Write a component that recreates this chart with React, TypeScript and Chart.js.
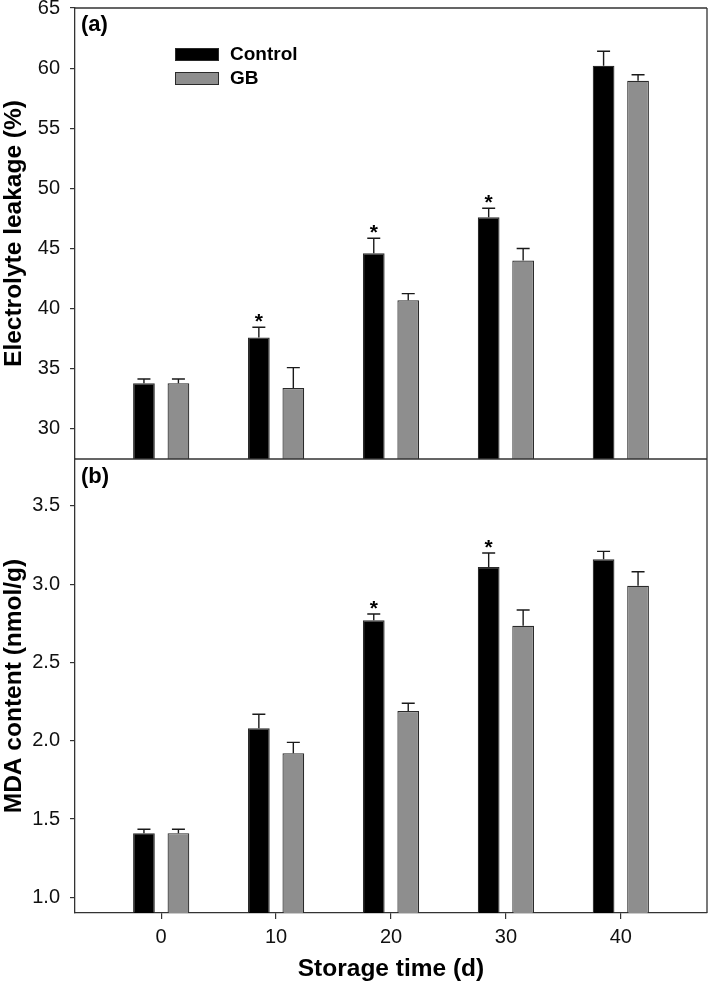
import React, { useEffect, useRef } from 'react';
import { Chart, registerables } from 'chart.js';

Chart.register(...registerables);

// ---- data ----
const days = [0, 10, 20, 30, 40];
const dayLabels = ['0', '10', '20', '30', '40'];
const seriesNames = ['Control', 'GB'];

const elControl = [33.8, 37.6, 44.6, 47.6, 60.2];
const elControlErr = [0.35, 0.85, 1.25, 0.75, 1.2];
const elGB = [33.8, 33.4, 40.7, 44.0, 58.95];
const elGBErr = [0.35, 1.7, 0.55, 1.0, 0.5];
const elSig = [false, true, true, true, false];

const mdaControl = [1.41, 2.08, 2.77, 3.11, 3.16];
const mdaControlErr = [0.025, 0.09, 0.04, 0.09, 0.05];
const mdaGB = [1.41, 1.92, 2.19, 2.735, 2.99];
const mdaGBErr = [0.025, 0.07, 0.05, 0.1, 0.09];
const mdaSig = [false, false, true, true, false];

const elTicks = [30, 35, 40, 45, 50, 55, 60, 65];
const elTickLabels = ['30', '35', '40', '45', '50', '55', '60', '65'];
const mdaTicks = [1.0, 1.5, 2.0, 2.5, 3.0, 3.5];
const mdaTickLabels = ['1.0', '1.5', '2.0', '2.5', '3.0', '3.5'];

const panelLabels = ['(a)', '(b)'];
const yTitles = ['Electrolyte leakage (%)', 'MDA content (nmol/g)'];
const xTitle = 'Storage time (d)';

const FONT = "'Liberation Sans', Arial, Helvetica, sans-serif";
const BLACK = '#000000';
const GRAY = '#8e8e8e';
const EDGE = '#2a2a2a';
const AXIS = '#333333';

const errorBarPlugin = {
  id: 'errorBars',
  afterDatasetsDraw(chart: any) {
    const ctx = chart.ctx;
    chart.data.datasets.forEach((ds: any, di: number) => {
      const meta = chart.getDatasetMeta(di);
      const yScale = chart.scales[ds.yAxisID];
      meta.data.forEach((el: any, i: number) => {
        const v = ds.data[i].y;
        const e = ds.errs[i];
        const capY = yScale.getPixelForValue(v + e);
        const x = el.x;
        ctx.save();
        ctx.strokeStyle = '#1a1a1a';
        ctx.lineWidth = 1.4;
        ctx.beginPath();
        ctx.moveTo(x, el.y);
        ctx.lineTo(x, capY);
        ctx.moveTo(x - 6.5, capY);
        ctx.lineTo(x + 6.5, capY);
        ctx.stroke();
        if (ds.sig && ds.sig[i]) {
          ctx.fillStyle = '#000';
          ctx.font = `bold 21px ${FONT}`;
          ctx.textAlign = 'center';
          ctx.textBaseline = 'alphabetic';
          ctx.fillText('*', x, capY + 1);
        }
        ctx.restore();
      });
    });
  },
};

const framePlugin = {
  id: 'frame',
  afterDraw(chart: any) {
    const { ctx, chartArea } = chart;
    const yA = chart.scales.yA;
    const yB = chart.scales.yB;
    ctx.save();
    ctx.strokeStyle = AXIS;
    ctx.lineWidth = 1.3;
    ctx.beginPath();
    ctx.moveTo(chartArea.left, chartArea.top);
    ctx.lineTo(chartArea.right, chartArea.top);
    ctx.moveTo(chartArea.right, chartArea.top);
    ctx.lineTo(chartArea.right, chartArea.bottom);
    ctx.moveTo(chartArea.left, yA.bottom);
    ctx.lineTo(chartArea.right, yA.bottom);
    ctx.stroke();

    // panel labels
    ctx.fillStyle = '#000';
    ctx.font = `bold 22px ${FONT}`;
    ctx.textAlign = 'left';
    ctx.textBaseline = 'middle';
    ctx.fillText(panelLabels[0], chartArea.left + 6, yA.top + 17);
    ctx.fillText(panelLabels[1], chartArea.left + 6, yB.top + 18);

    // legend
    const lx = chartArea.left + 100;
    const ly = yA.top + 40;
    const fills = [BLACK, GRAY];
    for (let i = 0; i < seriesNames.length; i++) {
      const y = ly + i * 24;
      ctx.fillStyle = fills[i];
      ctx.fillRect(lx, y, 44, 13);
      ctx.strokeStyle = EDGE;
      ctx.lineWidth = 1;
      ctx.strokeRect(lx + 0.5, y + 0.5, 43, 12);
      ctx.fillStyle = '#000';
      ctx.font = `bold 19px ${FONT}`;
      ctx.textBaseline = 'middle';
      ctx.fillText(seriesNames[i], lx + 55, y + 7);
    }
    ctx.restore();
  },
};

function makeDataset(label: string, vals: number[], errs: number[], sig: boolean[] | null, axis: string, stack: string, color: string) {
  return {
    label,
    data: days.map((d, i) => ({ x: d, y: vals[i] })),
    errs,
    sig,
    yAxisID: axis,
    xAxisID: 'x',
    stack,
    backgroundColor: color,
    borderColor: EDGE,
    borderWidth: 1.2,
    categoryPercentage: 0.6,
    barPercentage: 0.63,
  };
}

export default function App() {
  const ref = useRef<HTMLCanvasElement | null>(null);

  useEffect(() => {
    document.body.style.margin = '0';
    const canvas = ref.current;
    if (!canvas) return;
    const yCommon = (ticks: number[], labels: string[]) => ({
      type: 'linear' as const,
      position: 'left' as const,
      stack: 'panels',
      stacked: false,
      afterBuildTicks: (scale: any) => {
        scale.ticks = ticks.map((v) => ({ value: v }));
      },
      afterFit: (scale: any) => {
        scale.width = 75;
        scale.paddingTop = 0;
        scale.paddingBottom = 0;
      },
      grid: { drawOnChartArea: false, drawTicks: true, tickLength: 5, color: AXIS, lineWidth: 1.2 },
      border: { display: true, color: AXIS, width: 1.3 },
      ticks: {
        padding: 10,
        color: '#111',
        font: { family: FONT, size: 20 },
        callback: (v: any) => {
          const idx = ticks.findIndex((t) => Math.abs(t - v) < 1e-9);
          return idx >= 0 ? labels[idx] : '';
        },
      },
    });

    const chart = new Chart(canvas, {
      type: 'bar',
      data: {
        datasets: [
          makeDataset(seriesNames[0], elControl, elControlErr, elSig, 'yA', 'c', BLACK),
          makeDataset(seriesNames[1], elGB, elGBErr, null, 'yA', 'g', GRAY),
          makeDataset(seriesNames[0], mdaControl, mdaControlErr, mdaSig, 'yB', 'c', BLACK),
          makeDataset(seriesNames[1], mdaGB, mdaGBErr, null, 'yB', 'g', GRAY),
        ] as any,
      },
      options: {
        responsive: false,
        animation: false,
        layout: { padding: { top: 8, right: 2, left: 0, bottom: 0 } },
        plugins: { legend: { display: false }, tooltip: { enabled: false }, title: { display: false } },
        scales: {
          x: {
            type: 'linear',
            position: 'bottom',
            offset: false,
            min: -7.5,
            max: 47.5,
            afterBuildTicks: (scale: any) => {
              scale.ticks = days.map((v) => ({ value: v }));
            },
            afterFit: (scale: any) => {
              scale.height = 75;
              scale.paddingLeft = 0;
              scale.paddingRight = 0;
            },
            grid: { offset: false, drawOnChartArea: false, drawTicks: true, tickLength: 6, color: AXIS, lineWidth: 1.2 },
            border: { display: true, color: AXIS, width: 1.3 },
            ticks: {
              padding: 6,
              maxRotation: 0,
              color: '#111',
              font: { family: FONT, size: 20 },
              callback: (v: any) => {
                const idx = days.indexOf(v);
                return idx >= 0 ? dayLabels[idx] : '';
              },
            },
            title: {
              display: true,
              text: xTitle,
              color: '#000',
              font: { family: FONT, size: 24.5, weight: 'bold' },
              padding: { top: 0, bottom: 4 },
            },
          },
          yA: {
            ...yCommon(elTicks, elTickLabels),
            min: 27.5,
            max: 65,
            weight: 2,
            stackWeight: 451,
            title: {
              display: true,
              text: yTitles[0],
              color: '#000',
              font: { family: FONT, size: 24.5, weight: 'bold' },
              padding: { top: 0, bottom: 0 },
            },
          },
          yB: {
            ...yCommon(mdaTicks, mdaTickLabels),
            min: 0.9,
            max: 3.8,
            weight: 1,
            stackWeight: 454,
            title: {
              display: true,
              text: yTitles[1],
              color: '#000',
              font: { family: FONT, size: 24.5, weight: 'bold' },
              padding: { top: 0, bottom: 0 },
            },
          },
        } as any,
      },
      plugins: [errorBarPlugin, framePlugin],
    });
    return () => chart.destroy();
  }, []);

  return (
    <div style={{ position: 'absolute', left: 0, top: 0, width: 709, height: 988, background: '#fff' }}>
      <canvas ref={ref} width={709} height={988} style={{ display: 'block' }} />
    </div>
  );
}
